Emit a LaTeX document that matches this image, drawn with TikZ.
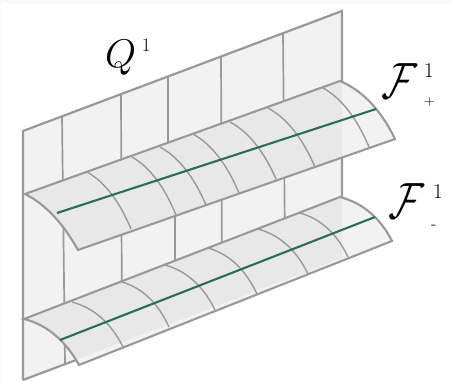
\RequirePackage{fix-cm}
\documentclass[tikz,border=0pt]{standalone}
\definecolor{edgegray}{HTML}{999999}
\definecolor{wallfill}{HTML}{F2F2F2}
\definecolor{stripfill}{HTML}{E8E8E8}
\definecolor{spine}{HTML}{2A6E5A}
\definecolor{margin}{HTML}{FAFAFA}
\newcommand{\thinglyph}[2]{\special{pdf:content 2 Tr #1 w 1 1 1 RG}#2\special{pdf:content 0 Tr 0 0 0 RG}}
\newcommand{\uprib}[4]{%
  \pgfmathsetmacro{\cxx}{#1+0.6*(#3-#1)}\pgfmathsetmacro{\cyy}{#2+0.26*(#4-#2)}%
  \pgfmathsetmacro{\ax}{#1+2/3*(\cxx-#1)}\pgfmathsetmacro{\ay}{#2+2/3*(\cyy-#2)}%
  \pgfmathsetmacro{\bx}{#3+2/3*(\cxx-#3)}\pgfmathsetmacro{\by}{#4+2/3*(\cyy-#4)}%
  \draw[ribline] (#1,#2) .. controls (\ax,\ay) and (\bx,\by) .. (#3,#4);}
\newcommand{\lowrib}[4]{%
  \pgfmathsetmacro{\cxx}{#1+0.65*(#3-#1)}\pgfmathsetmacro{\cyy}{#2+0.2*(#4-#2)}%
  \pgfmathsetmacro{\ax}{#1+2/3*(\cxx-#1)}\pgfmathsetmacro{\ay}{#2+2/3*(\cyy-#2)}%
  \pgfmathsetmacro{\bx}{#3+2/3*(\cxx-#3)}\pgfmathsetmacro{\by}{#4+2/3*(\cyy-#4)}%
  \draw[ribline] (#1,#2) .. controls (\ax,\ay) and (\bx,\by) .. (#3,#4);}
\newcommand{\wallpath}{(23,131) -- (342,11) -- (342,258) -- (23,380) -- cycle}
\newcommand{\upperpath}{(25,194) -- (340,81) .. controls (362.7,90.7) and (381,110) .. (395,139) -- (78,250) .. controls (62.7,222.7) and (45,204) .. cycle}
\newcommand{\lowerpath}{(24,319) -- (340,197) .. controls (362.5,203) and (380,217.5) .. (392,241) -- (79,365) .. controls (66.3,342) and (48,325) .. cycle}
\tikzset{
  wallline/.style={draw=edgegray,line width=2.2pt},
  gridline/.style={draw=edgegray,line width=1.7pt},
  ribline/.style={draw=edgegray,line width=1.4pt},
  stripline/.style={draw=edgegray,line width=2.1pt},
  spineline/.style={draw=spine,line width=2.1pt},
  lbl/.style={inner sep=0pt,outer sep=0pt,text=black},
  calglyph/.style={lbl,anchor=base west,xscale=3.75,yscale=5.1,xslant=0.22}
}
\begin{document}
\begin{tikzpicture}[x=1pt,y=-1pt]
\useasboundingbox (0,0) rectangle (451,381);
\fill[margin] (0,0) rectangle (451,381);
\fill[white] (2,4) rectangle (451,381);
% wall
\fill[wallfill] \wallpath;
\draw[gridline] (62,116) -- (65,363);
\draw[gridline] (121,95) -- (122,340);
\draw[gridline] (168,77) -- (168,150) -- (175,215) -- (175,300);
\draw[gridline] (221,57) -- (222,270);
\draw[gridline] (283,33) -- (285,250);
\draw[wallline] (23,380) -- (23,131) -- (342,11) -- (342,258);
\draw[wallline] (23,380) -- (100,351);
% strips
\fill[wallfill] \upperpath;
\begin{scope}\clip \wallpath; \fill[stripfill] \upperpath; \end{scope}
\uprib{87}{172}{131}{229}
\uprib{132}{157}{176}{215}
\uprib{160}{147}{206}{205}
\uprib{193}{134}{239}{193}
\uprib{230}{122}{276}{179}
\uprib{268}{108}{315}{167}
\uprib{323}{88}{369}{147}
\draw[stripline] \upperpath;
\draw[spineline] (57,213) -- (376,109);
\fill[wallfill] \lowerpath;
\begin{scope}\clip \wallpath; \fill[stripfill] \lowerpath; \end{scope}
\lowrib{72}{302}{123}{347}
\lowrib{122}{282}{169}{327}
\lowrib{165}{265}{215}{310}
\lowrib{208}{248}{257}{294}
\lowrib{258}{229}{308}{274}
\lowrib{300}{213}{348}{257}
\draw[stripline] \lowerpath;
\draw[spineline] (60,340) -- (375,217);
% labels
\node[lbl,anchor=base west] (q) at (105,67) {\fontsize{40}{40}\selectfont\thinglyph{0.5}{$Q$}};
\node[lbl,anchor=base west] (qs) at (142,51) {\fontsize{19}{19}\selectfont 1};
\node[calglyph] (fp) at (381,98) {\thinglyph{0.1}{$\mathcal{F}$}};
\node[lbl,anchor=base west] (fps) at (424,77) {\fontsize{21}{21}\selectfont 1};
\node[lbl,anchor=base west] (fpp) at (424,105) {\fontsize{14}{14}\selectfont +};
\node[calglyph] (fm) at (388,218) {\thinglyph{0.1}{$\mathcal{F}$}};
\node[lbl,anchor=base west] (fms) at (433,198) {\fontsize{21}{21}\selectfont 1};
\node[lbl,anchor=base west] (fmm) at (431,229) {\fontsize{18}{18}\selectfont -};
\end{tikzpicture}
\end{document}
